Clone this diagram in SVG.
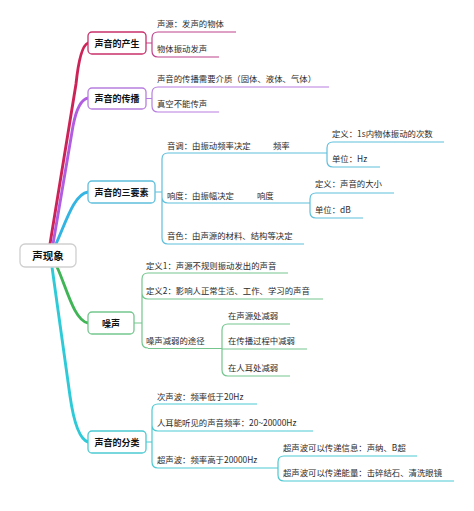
<svg xmlns="http://www.w3.org/2000/svg" width="474" height="511" viewBox="0 0 474 511">
<style>
text{font-family:"Noto Sans CJK SC","Noto Sans",sans-serif;dominant-baseline:central;fill:#2b2b2b;font-size:8.4px}
.n{font-weight:bold;fill:#111;font-size:9px;text-anchor:middle}
.r{font-size:10.5px}
.box{fill:#fff;stroke-width:1.3}
.main{fill:none;stroke-width:2.9;stroke-linecap:round}
.sub{fill:none;stroke-width:1.2}
.c1{stroke:#c0428c}.c2{stroke:#b77fe0}.c3{stroke:#5fbfdc}.c4{stroke:#74c68e}.c5{stroke:#4cc9d2}
</style>
<rect width="474" height="511" fill="#fff"/>
<g id="connectors">
<path class="main" stroke="#cc2458" d="M50 244 L76 84 Q80 46 88 43"/>
<path class="main" stroke="#b05de0" d="M53 244 L73 126 Q78 100 88 98"/>
<path class="main" stroke="#34b4e2" d="M56 244 C66 222 74 194 88 192"/>
<path class="main" stroke="#3fb556" d="M57 267 C66 286 74 321 88 323"/>
<path class="main" stroke="#2ecad8" d="M52 267 L70 396 Q76 438 88 442"/>
<!-- branch 1 -->
<g class="sub c1">
<path d="M146 43 H152 M158 32 Q152 32 152 38 V51 Q152 57 158 57"/>
<path d="M158 32 H236 M158 57 H219"/>
</g>
<!-- branch 2 -->
<g class="sub c2">
<path d="M146 98.5 H152 M158 87 Q152 87 152 93 V106 Q152 112 158 112"/>
<path d="M158 87 H329 M158 112 H219"/>
</g>
<!-- branch 3 -->
<g class="sub c3">
<path d="M155 192 H162 M168 153 Q162 153 162 159 V238 Q162 244 168 244 M162 197 Q162 203 168 203"/>
<path d="M168 153 H327 M168 203 H310 M168 244 H304"/>
<path d="M333 142 Q327 142 327 148 V161 Q327 167 333 167 M333 142 H444 M333 167 H380"/>
<path d="M316 193 Q310 193 310 199 V212 Q310 218 316 218 M316 193 H394 M316 218 H363"/>
</g>
<!-- branch 4 -->
<g class="sub c4">
<path d="M134 323 H142 M148 273 Q142 273 142 279 V342 Q142 348 148 348 M142 293 Q142 299 148 299"/>
<path d="M148 273 H288 M148 299 H323 M148 348.5 H222"/>
<path d="M228 324 Q222 324 222 330 V370 Q222 376 228 376 M222 349 H307 M228 324 H290 M228 376 H290"/>
</g>
<!-- branch 5 -->
<g class="sub c5">
<path d="M146 442 H152 M158 404 Q152 404 152 410 V462 Q152 468 158 468 M152 425 Q152 431 158 431"/>
<path d="M158 404 H257 M158 431 H313 M158 468 H278"/>
<path d="M284 456 Q278 456 278 462 V475 Q278 481 284 481 M284 456 H417 M284 481 H454"/>
</g>
</g>
<g id="root">
<rect class="box" x="20" y="244" width="56" height="23" rx="5" stroke="#cfcfcf" stroke-width="1.5"/>
<text class="n r" x="48" y="255.5">声现象</text>
</g>
<g id="n1">
<rect class="box" x="88" y="32" width="58" height="22" rx="4" stroke="#c8306a"/>
<text class="n" x="117" y="43">声音的产生</text>
<text x="157" y="23">声源：发声的物体</text>
<text x="157" y="48">物体振动发声</text>
</g>
<g id="n2">
<rect class="box c2" x="88" y="88" width="58" height="21" rx="4"/>
<text class="n" x="117" y="98.5">声音的传播</text>
<text x="157" y="78">声音的传播需要介质（固体、液体、气体）</text>
<text x="157" y="103">真空不能传声</text>
</g>
<g id="n3">
<rect class="box c3" x="88" y="181" width="67" height="22" rx="4"/>
<text class="n" x="121.5" y="192">声音的三要素</text>
<text x="167" y="145">音调：由振动频率决定</text>
<text x="273" y="145">频率</text>
<text x="332" y="133">定义：1s内物体振动的次数</text>
<text x="332" y="158">单位：Hz</text>
<text x="167" y="195">响度：由振幅决定</text>
<text x="257" y="195">响度</text>
<text x="315" y="183">定义：声音的大小</text>
<text x="315" y="209">单位：dB</text>
<text x="167" y="235">音色：由声源的材料、结构等决定</text>
</g>
<g id="n4">
<rect class="box c4" x="88" y="312" width="46" height="22" rx="4"/>
<text class="n" x="111" y="323">噪声</text>
<text x="146" y="265">定义1：声源不规则振动发出的声音</text>
<text x="146" y="290">定义2：影响人正常生活、工作、学习的声音</text>
<text x="146" y="340">噪声减弱的途径</text>
<text x="228" y="315">在声源处减弱</text>
<text x="228" y="340">在传播过程中减弱</text>
<text x="228" y="367">在人耳处减弱</text>
</g>
<g id="n5">
<rect class="box c5" x="88" y="431" width="58" height="22" rx="4"/>
<text class="n" x="117" y="442">声音的分类</text>
<text x="157" y="396">次声波：频率低于20Hz</text>
<text x="157" y="422">人耳能听见的声音频率：20~20000Hz</text>
<text x="157" y="459">超声波：频率高于20000Hz</text>
<text x="283" y="447">超声波可以传递信息：声纳、B超</text>
<text x="283" y="472">超声波可以传递能量：击碎结石、清洗眼镜</text>
</g>
</svg>
